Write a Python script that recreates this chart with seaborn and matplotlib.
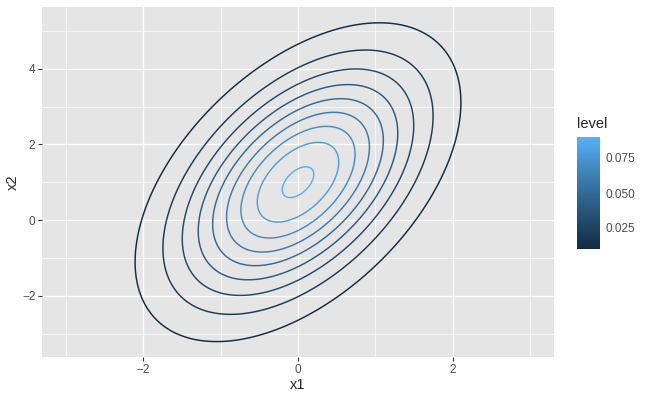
import numpy as np
import seaborn as sns
import matplotlib.pyplot as plt
from matplotlib.colors import ListedColormap, Normalize
from matplotlib.colorbar import ColorbarBase
from matplotlib.ticker import MultipleLocator

# bivariate normal
mean = [0.0, 1.0]
sd = [1.0, 2.0]
rho = 0.5
levels = [0.01, 0.02, 0.03, 0.04, 0.05, 0.06, 0.07, 0.08, 0.09]
cbar_ticks = [0.025, 0.050, 0.075]
cbar_labels = ["0.025", "0.050", "0.075"]
low_col = "#132B43"
high_col = "#56B1F7"

WHITE = np.array([0.95047, 1.0, 1.08883])
M = np.array([[0.4124, 0.3576, 0.1805], [0.2126, 0.7152, 0.0722], [0.0193, 0.1192, 0.9505]])


def hex_to_lab(h):
    rgb = np.array([int(h[i:i + 2], 16) / 255 for i in (1, 3, 5)])
    c = np.where(rgb <= 0.04045, rgb / 12.92, ((rgb + 0.055) / 1.055) ** 2.4)
    t = M @ c / WHITE
    f = np.where(t > 0.008856, np.cbrt(t), 7.787 * t + 16 / 116)
    return np.array([116 * f[1] - 16, 500 * (f[0] - f[1]), 200 * (f[1] - f[2])])


def lab_to_rgb(lab):
    fy = (lab[0] + 16) / 116
    f = np.array([fy + lab[1] / 500, fy, fy - lab[2] / 200])
    t = np.where(f ** 3 > 0.008856, f ** 3, (f - 16 / 116) / 7.787) * WHITE
    c = np.linalg.solve(M, t)
    c = np.where(c <= 0.0031308, 12.92 * c, 1.055 * np.clip(c, 0, None) ** (1 / 2.4) - 0.055)
    return np.clip(c, 0, 1)


# ggplot-style gradient, interpolated in Lab space
la, lb = hex_to_lab(low_col), hex_to_lab(high_col)
cmap = ListedColormap([lab_to_rgb(la + (lb - la) * s) for s in np.linspace(0, 1, 256)])
norm = Normalize(min(levels), max(levels))

sns.set_theme(style="darkgrid", rc={
    "axes.facecolor": "#E5E5E5",
    "grid.color": "white",
    "axes.edgecolor": "none",
    "xtick.bottom": True, "ytick.left": True,
    "xtick.major.size": 2.75, "ytick.major.size": 2.75,
    "xtick.major.width": 0.8, "ytick.major.width": 0.8,
    "xtick.color": "#333333", "ytick.color": "#333333",
    "xtick.labelcolor": "#4D4D4D", "ytick.labelcolor": "#4D4D4D",
    "xtick.labelsize": 8.8, "ytick.labelsize": 8.8,
    "xtick.major.pad": 2.2, "ytick.major.pad": 2.2,
    "axes.labelsize": 11,
})
plt.rcParams["font.family"] = ["Liberation Sans", "DejaVu Sans"]

fig = plt.figure(figsize=(650 / 96, 400 / 96), dpi=96)
ax = fig.add_axes([42 / 650, 43 / 400, 512 / 650, 350 / 400])

xs = np.linspace(-3.5, 3.5, 400)
ys = np.linspace(-4.0, 6.0, 400)
X, Y = np.meshgrid(xs, ys)
zx = (X - mean[0]) / sd[0]
zy = (Y - mean[1]) / sd[1]
q = (zx ** 2 - 2 * rho * zx * zy + zy ** 2) / (1 - rho ** 2)
Z = np.exp(-q / 2) / (2 * np.pi * sd[0] * sd[1] * np.sqrt(1 - rho ** 2))

ax.contour(X, Y, Z, levels=levels, cmap=cmap, norm=norm, linewidths=1.1)

ax.set_xlim(-3.31, 3.31)
ax.set_ylim(-3.62, 5.63)
ax.xaxis.set_major_locator(MultipleLocator(2))
ax.yaxis.set_major_locator(MultipleLocator(2))
ax.xaxis.set_minor_locator(MultipleLocator(1))
ax.yaxis.set_minor_locator(MultipleLocator(1))
ax.grid(which="major", color="white", linewidth=1.0)
ax.grid(which="minor", color="white", linewidth=0.5)
ax.tick_params(which="minor", length=0)
for s in ax.spines.values():
    s.set_visible(False)
ax.set_xlabel("x1", labelpad=2)
ax.set_ylabel("x2", labelpad=2)

cax = fig.add_axes([577 / 650, (400 - 249) / 400, 23 / 650, 112 / 400])
cb = ColorbarBase(cax, cmap=cmap, norm=norm, ticks=cbar_ticks)
cb.outline.set_visible(False)
cb.set_ticklabels(cbar_labels)
cax.tick_params(direction="in", length=3.4, width=0.6, color="white",
                left=True, right=True, labelsize=8.8, labelcolor="#4D4D4D", pad=4)
fig.text(577 / 650, 1 - 124 / 400, "level", fontsize=11, va="center", ha="left")

fig.savefig("out.png", dpi=96)
